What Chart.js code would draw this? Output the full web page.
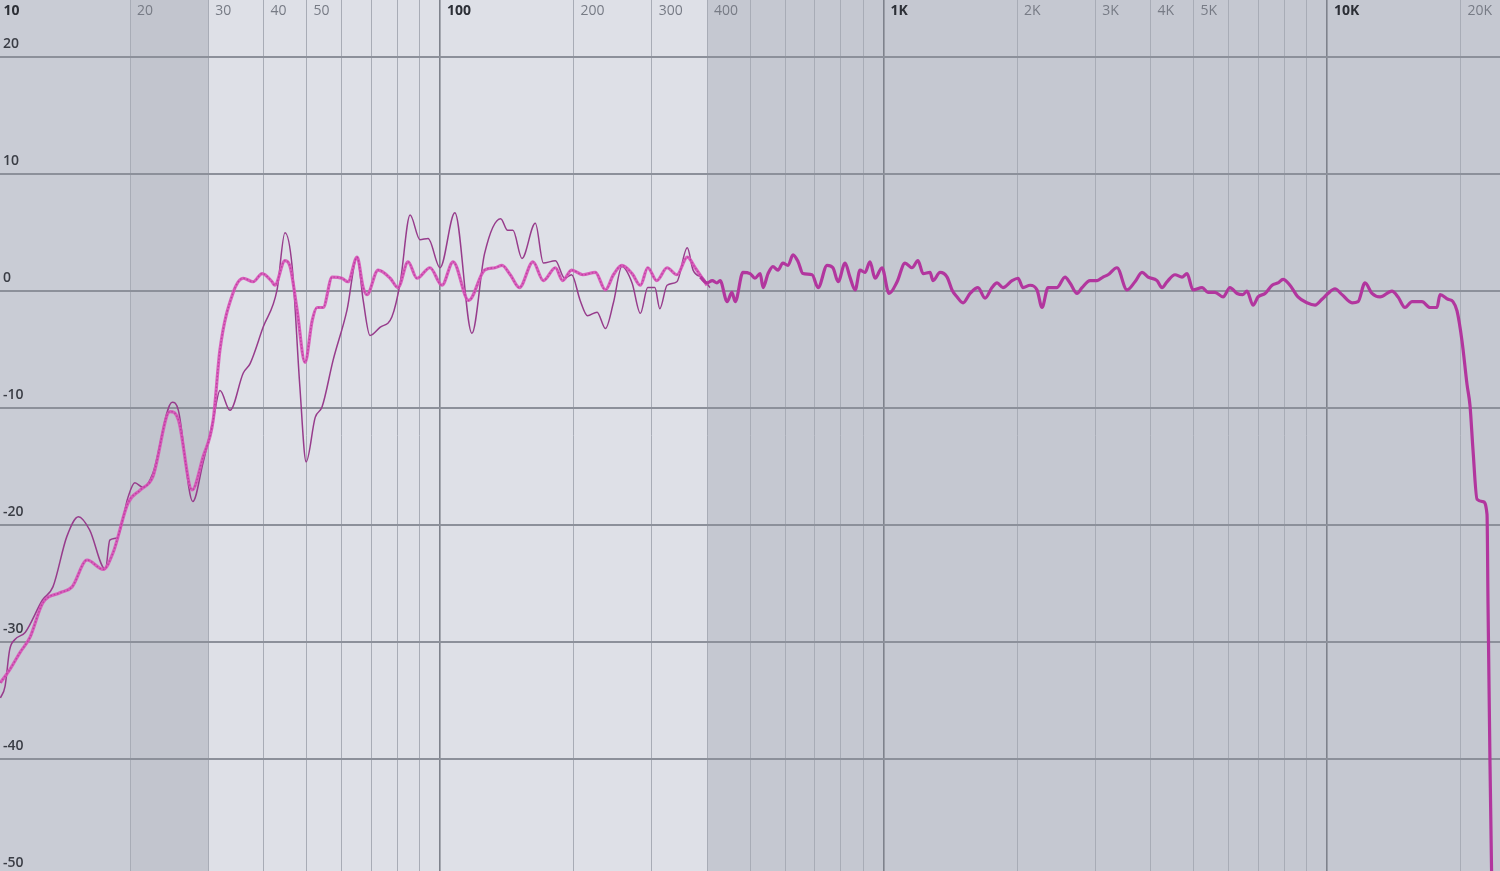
<!DOCTYPE html>
<html>
<head>
<meta charset="utf-8">
<script src="https://cdn.jsdelivr.net/npm/chart.js@4.4.0/dist/chart.umd.min.js"></script>
<style>
  html, body { margin: 0; padding: 0; background: #c6c9d2; overflow: hidden; }
  #wrap { width: 1500px; height: 871px; position: relative; }
</style>
</head>
<body>
<div id="wrap"><canvas id="eqChart"></canvas></div>
<script>
// frequency response, thin measured trace (10 Hz - 400 Hz)
const thinFreq = [10.2,10.45,10.7,11.0,11.6,12.7,13.4,14.4,15.3,16.2,17.6,18.0,18.7,19.8,20.5,21.4,22.5,24.9,25.7,27.7,29.2,30.8,31.9,33.6,36.0,37.3,39.9,42.9,44.7,46.4,48.3,49.9,52.3,54.2,57.4,61.7,65.0,67.1,69.5,73.2,77.9,81.3,85.6,90.1,94.0,100,108,118,126,137,142,146,153,164,171,182,191,198,207,215,226,236,246,257,271,283,294,305,313,325,342,361,372,392,406];
const thinDb = [-34.8,-33.8,-30.7,-29.8,-29.2,-26.4,-25.3,-21.0,-19.3,-20.4,-23.8,-21.3,-21.1,-17.6,-16.4,-16.8,-15.6,-9.5,-10.2,-18.0,-14.7,-11.0,-8.5,-10.2,-7.0,-6.2,-3.1,0.1,5.0,2.1,-8.2,-14.6,-10.8,-9.9,-5.9,-1.6,2.9,-0.8,-3.8,-3.1,-2.2,0.7,6.5,4.4,4.5,2.0,6.7,-3.6,3.2,6.2,5.2,5.2,2.8,5.8,2.4,2.6,1.1,1.4,-0.8,-2.1,-1.8,-3.2,-1.0,2.1,0.7,-1.9,0.3,0.3,-1.5,0.5,0.8,3.7,1.8,1.1,0.3];

// corrected / averaged trace (10 Hz - 400 Hz)
const avgFreq = [10.2,10.7,11.3,11.9,12.7,13.9,14.8,16.0,17.4,18.3,19.8,21.1,22.5,24.6,25.7,27.6,29.2,30.8,31.9,34.1,36.0,37.9,39.7,41.8,42.4,44.7,45.9,47.6,49.6,51.5,52.8,54.5,57.1,60.1,62.0,65.0,67.1,68.4,72.5,77.2,80.4,84.7,88.7,94.9,101,107,116,126,133,138,144,151,162,171,182,189,198,210,224,236,246,257,271,283,294,308,325,342,361,376,400];
const avgDb = [-33.5,-32.4,-30.9,-29.6,-26.7,-25.8,-25.3,-23.0,-23.8,-22.4,-18.1,-17.0,-15.9,-10.3,-11.0,-17.0,-14.2,-11.0,-5.0,-0.2,1.1,0.8,1.5,0.8,0.5,2.6,2.1,-1.6,-6.1,-2.5,-1.4,-1.4,1.2,1.1,0.8,2.9,0.3,-0.3,1.8,1.1,0.3,2.5,1.1,2.0,0.5,2.5,-0.8,1.8,2.0,2.2,1.4,0.3,2.5,0.9,2.0,0.9,1.8,1.4,1.6,0.1,1.4,2.2,1.5,0.5,2.0,0.9,2.0,1.4,2.9,2.0,0.5];

// combined trace above 400 Hz
const hiFreq = [386,400,411,421,428,444,455,463,482,500,513,527,535,549,563,578,593,609,625,642,658,690,712,746,769,790,819,840,863,885,908,932,957,992,1029,1073,1118,1159,1196,1228,1273,1293,1341,1391,1427,1465,1511,1567,1633,1694,1756,1803,1859,1949,2011,2063,2140,2219,2277,2349,2461,2566,2633,2731,2803,2922,3030,3125,3208,3360,3540,3690,3828,3949,4137,4246,4357,4542,4710,4834,4988,5230,5390,5590,5830,6040,6270,6460,6600,6810,6990,7250,7520,7750,7960,8250,8600,9010,9400,9740,10050,10420,10810,11390,11750,12180,12630,13170,14010,14460,14990,15550,16370,17070,17700,17980,18740,19230,19640,20160,20690,21010,21340,21790,22480,22950,23070,23310,23550];
const hiDb = [1.2,0.7,0.9,0.7,0.9,-0.9,-0.1,-0.9,1.6,1.5,1.1,1.5,0.3,1.5,2.1,1.8,2.4,2.2,3.1,2.5,1.5,1.4,0.3,2.2,2.0,0.8,2.4,1.2,0.1,1.8,1.6,2.5,1.1,2.0,-0.2,0.8,2.4,2.0,2.6,1.5,1.6,0.9,1.6,1.2,0.1,-0.5,-1.0,-0.2,0.3,-0.6,0.3,0.7,0.3,0.9,1.1,0.3,0.5,0.1,-1.4,0.3,0.3,1.2,0.7,-0.2,0.3,0.9,0.9,1.2,1.4,2.0,0.1,0.8,1.6,1.2,0.9,0.3,0.8,1.4,1.2,1.5,0.1,0.3,-0.1,-0.1,-0.5,0.3,-0.2,-0.3,0.0,-1.2,-0.5,-0.2,0.5,0.7,1.0,0.5,-0.5,-1.0,-1.2,-0.7,-0.2,0.2,-0.3,-1.0,-0.9,0.7,-0.2,-0.5,0.0,-0.5,-1.4,-0.9,-0.9,-1.4,-1.4,-0.3,-0.7,-0.9,-1.7,-4.3,-8.0,-9.8,-13.6,-17.8,-18.0,-19.1,-26.8,-40.5,-52];

// axes
const xGrid = [10,20,30,40,50,60,70,80,90,100,200,300,400,500,600,700,800,900,1000,2000,3000,4000,5000,6000,7000,8000,9000,10000,20000];
const xMajor = [10,100,1000,10000];
const xLabelVals = [10,20,30,40,50,100,200,300,400,1000,2000,3000,4000,5000,10000,20000];
const xLabelText = ['10','20','30','40','50','100','200','300','400','1K','2K','3K','4K','5K','10K','20K'];
const yGrid = [-40,-30,-20,-10,0,10,20];
const yLabelVals = [20,10,0,-10,-20,-30,-40,-50];

// shaded frequency bands [from, to, colour]
const bandFrom = [10, 20, 30, 400];
const bandTo = [20, 30, 400, 30000];
const bandColor = ['#c9ccd5', '#c2c5ce', '#dee0e7', '#c5c8d1'];

function pts(f, d) {
    return f.map((v, i) => ({x: v, y: d[i]}));
}

const bandPlugin = {
    id: 'bands',
    beforeDraw(chart) {
        const c = chart.ctx, xs = chart.scales.x, a = chart.chartArea;
        c.save();
        for (let i = 0; i < bandFrom.length; i++) {
            const x1 = xs.getPixelForValue(bandFrom[i]);
            const x2 = xs.getPixelForValue(bandTo[i]);
            c.fillStyle = bandColor[i];
            c.fillRect(x1, a.top, x2 - x1, a.bottom - a.top);
        }
        c.restore();
    }
};

const labelPlugin = {
    id: 'labels',
    afterDraw(chart) {
        const c = chart.ctx, xs = chart.scales.x, ys = chart.scales.y;
        c.save();
        c.textBaseline = 'middle';
        c.textAlign = 'left';
        xLabelVals.forEach((v, i) => {
            const major = xMajor.includes(v);
            c.font = (major ? 'bold ' : '') + '14px "Open Sans", "Noto Sans", sans-serif';
            c.fillStyle = major ? '#2c2f36' : '#777b85';
            c.fillText(xLabelText[i], Math.max(3, xs.getPixelForValue(v) + 7), 11);
        });
        c.font = '600 14px "Open Sans", "Noto Sans", sans-serif';
        c.fillStyle = '#3a3d45';
        yLabelVals.forEach(v => {
            c.fillText(String(v), 3, ys.getPixelForValue(v) - 13);
        });
        c.restore();
    }
};

var ctx = document.getElementById('eqChart').getContext('2d');
var eqChart = new Chart(ctx, {
    type: 'line',
    data: {
        datasets: [{
            label: 'Corrected',
            data: pts(avgFreq, avgDb),
            borderColor: 'rgba(216,86,186,0.92)',
            borderWidth: 3.2,
            pointRadius: 0,
            cubicInterpolationMode: 'monotone',
            order: 2
        },
        {
            // dotted texture on top of the corrected trace
            label: 'Corrected dots',
            data: pts(avgFreq, avgDb),
            borderColor: 'rgba(170,40,140,0.55)',
            borderWidth: 1.4,
            borderDash: [1.5, 2],
            pointRadius: 0,
            cubicInterpolationMode: 'monotone',
            order: 1
        },
        {
            label: 'Measured',
            data: pts(thinFreq, thinDb),
            borderColor: '#973c8c',
            borderWidth: 1.5,
            pointRadius: 0,
            cubicInterpolationMode: 'monotone',
            order: 3
        },
        {
            label: 'Response',
            data: pts(hiFreq, hiDb),
            borderColor: '#b2369e',
            borderWidth: 3.2,
            pointRadius: 0,
            cubicInterpolationMode: 'monotone',
            order: 0
        }]
    },
    options: {
        responsive: true,
        maintainAspectRatio: false,
        animation: false,
        layout: { padding: 0 },
        plugins: {
            legend: { display: false },
            tooltip: { enabled: false }
        },
        scales: {
            x: {
                type: 'logarithmic',
                min: 10.18,
                max: 24550,
                afterBuildTicks: s => { s.ticks = xGrid.map(v => ({value: v})); },
                ticks: { display: false },
                border: { display: false },
                grid: {
                    drawTicks: false,
                    color: c => xMajor.includes(c.tick.value) ? '#7e828c' : '#a8acb6',
                    lineWidth: c => xMajor.includes(c.tick.value) ? 1.6 : 1
                }
            },
            y: {
                min: -49.6,
                max: 24.9,
                afterBuildTicks: s => { s.ticks = yGrid.map(v => ({value: v})); },
                ticks: { display: false },
                border: { display: false },
                grid: {
                    drawTicks: false,
                    color: '#8c909a',
                    lineWidth: 2
                }
            }
        }
    },
    plugins: [bandPlugin, labelPlugin]
});
</script>
</body>
</html>
